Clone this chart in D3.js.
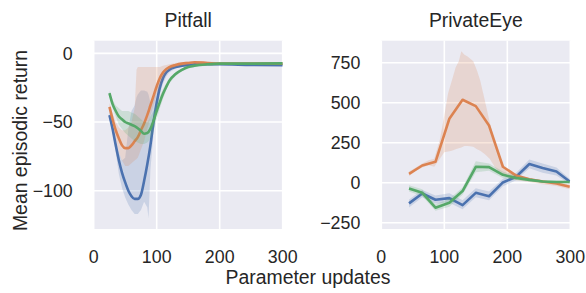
<!DOCTYPE html>
<html>
<head>
<meta charset="utf-8">
<script src="https://cdn.jsdelivr.net/npm/d3@7"></script>
<style>
  html, body { margin: 0; padding: 0; background: #ffffff; }
  svg { display: block; }
  text { font-family: "Liberation Sans", Arial, sans-serif; fill: #262626; }
</style>
</head>
<body>
<svg id="chart" width="586" height="293"></svg>
<script>
// ---------------- DATA ----------------
const seriesNames = ["blue", "orange", "green"];
const seriesColors = ["#4C72B0", "#DD8452", "#55A868"];

const panelTitles = ["Pitfall", "PrivateEye"];
const xTicks = [0, 100, 200, 300];
const pitfallYTicks = [0, -50, -100];
const privateEyeYTicks = [750, 500, 250, 0, -250];

// Pitfall mean lines
const pfX = [25, 30, 35, 40, 45, 50, 55, 60, 65, 70, 75, 80, 85, 90, 95, 100, 105, 110, 115, 120, 130, 140, 150, 160, 180, 200, 250, 300];
const pfBlue = [-45, -55, -67, -78, -87, -94, -100, -104, -106, -106, -103, -93, -81, -67, -50, -36, -25, -18, -14, -12, -10, -9, -8.5, -8, -8, -8, -8.5, -8.7];
const pfOrange = [-39, -48, -56, -62, -67, -69, -69, -67, -64, -61, -56, -51, -45, -38, -31, -24, -18, -14, -11.5, -10, -8.5, -7.5, -7, -6.5, -7, -7.5, -7.5, -7.5];
const pfGreen = [-29, -37, -42, -46, -48, -50, -51, -52, -53, -54.5, -56.5, -58.5, -58, -55, -49, -42, -35.5, -29.5, -24.5, -20, -15, -12, -10, -9, -8, -7.5, -7.5, -7.3];

// Pitfall bands
const pfBandX = [25, 30, 35, 40, 45, 50, 55, 60, 65, 68, 70, 75, 80, 85, 87, 90, 95, 100, 105, 110, 115, 120, 130, 140, 150, 160, 180, 200, 250, 300];
const pfBlueHi = [-42, -51, -62, -72, -78, -76, -55, -42, -38, -32, -30, -27, -27, -28, -30, -36, -32, -24, -18, -14, -11.5, -10, -9, -8, -7.5, -7.3, -7.3, -7.5, -8, -8.2];
const pfBlueLo = [-48, -58, -72, -88, -98, -105, -110, -114, -117, -117, -117, -114, -108, -112, -120, -85, -58, -42, -30, -22, -17, -14, -11, -10, -9.5, -9, -8.8, -8.7, -9, -9.2];
const pfOrangeHi = [-36, -44, -50, -54, -56, -56, -54, -50, -40, -12, -10, -10, -10, -10, -10, -10, -10, -10, -10, -9, -8.5, -8, -7, -6.5, -6, -5.5, -6, -6.5, -6.5, -7];
const pfOrangeLo = [-42, -52, -62, -72, -78, -82, -82, -80, -78, -77, -76, -70, -64, -55, -52, -45, -38, -30, -24, -18, -14, -12, -10, -9, -8, -7.5, -8, -8.5, -8.5, -8];
const pfGreenHi = [-27, -34, -38, -40, -42, -42, -42, -43, -44, -45, -46, -48, -50, -50, -49, -46, -42, -36, -31, -26, -22, -18, -13.5, -11, -9, -8, -7.2, -6.8, -6.8, -6.8];
const pfGreenLo = [-31, -40, -46, -52, -55, -58, -60, -62, -64, -64.5, -65, -66, -66, -65, -64, -62, -56, -48, -40, -33, -27, -22, -16.5, -13, -11, -10, -9, -8.2, -8, -7.8];

// PrivateEye mean lines
const peX = [44, 65, 86, 108, 129, 150, 171, 193, 214, 235, 256, 278, 299];
const peBlue = [-129, -67, -106, -96, -140, -63, -84, 2, 38, 117, 92, 70, 8];
const peOrange = [56, 108, 131, 400, 519, 479, 358, 100, 45, 22, 8, -5, -25];
const peGreen = [-36, -63, -156, -125, -52, 100, 98, 50, 30, 18, 8, 5, 5];

// PrivateEye bands
const peBlueHi = [-105, -45, -80, -65, -110, -35, -55, 25, 62, 145, 120, 95, 25];
const peBlueLo = [-155, -90, -130, -125, -165, -90, -110, -22, 15, 90, 62, 45, -10];
const peGreenHi = [-15, -40, -135, -100, -30, 135, 120, 70, 45, 28, 15, 12, 12];
const peGreenLo = [-55, -85, -175, -150, -75, 65, 75, 30, 15, 8, 0, -2, -2];
const peOrangeBandX = [44, 55, 65, 75, 84, 93, 100, 106, 112, 118, 123, 127, 132, 137, 146, 152, 157, 164, 172, 180, 188, 196, 205, 214, 235, 256, 278, 299];
const peOrangeHi = [70, 95, 120, 140, 150, 270, 420, 560, 640, 720, 760, 822, 800, 790, 760, 700, 640, 520, 380, 260, 150, 90, 65, 50, 30, 18, 5, -12];
const peOrangeLo = [40, 75, 95, 110, 100, 150, 190, 195, 200, 210, 215, 220, 230, 230, 225, 210, 200, 180, 150, 100, 60, 40, 25, 15, 5, -10, -20, -40];

// ---------------- LAYOUT ----------------
const svg = d3.select("#chart");
const plotTop = 40.7, plotBottom = 229;

const panels = [
  {
    title: panelTitles[0],
    x: d3.scaleLinear().domain([0, 300]).range([93.7, 282.7]),
    y: d3.scaleLinear().domain([-127.9, 9.2]).range([plotBottom, plotTop]),
    yTicks: pitfallYTicks,
    curve: d3.curveMonotoneX,
    series: [
      { line: pfX.map((x, i) => [x, pfBlue[i]]), band: pfBandX.map((x, i) => [x, pfBlueLo[i], pfBlueHi[i]]) },
      { line: pfX.map((x, i) => [x, pfOrange[i]]), band: pfBandX.map((x, i) => [x, pfOrangeLo[i], pfOrangeHi[i]]) },
      { line: pfX.map((x, i) => [x, pfGreen[i]]), band: pfBandX.map((x, i) => [x, pfGreenLo[i], pfGreenHi[i]]) }
    ]
  },
  {
    title: panelTitles[1],
    x: d3.scaleLinear().domain([0, 300]).range([381.3, 570.3]),
    y: d3.scaleLinear().domain([-289, 888]).range([plotBottom, plotTop]),
    yTicks: privateEyeYTicks,
    curve: d3.curveLinear,
    series: [
      { line: peX.map((x, i) => [x, peBlue[i]]), band: peX.map((x, i) => [x, peBlueLo[i], peBlueHi[i]]) },
      { line: peX.map((x, i) => [x, peOrange[i]]), band: peOrangeBandX.map((x, i) => [x, peOrangeLo[i], peOrangeHi[i]]) },
      { line: peX.map((x, i) => [x, peGreen[i]]), band: peX.map((x, i) => [x, peGreenLo[i], peGreenHi[i]]) }
    ]
  }
];

panels.forEach((p, pi) => {
  const [x0, x1] = p.x.range();
  const g = svg.append("g");
  const clipId = "clip" + pi;
  svg.append("clipPath").attr("id", clipId)
    .append("rect").attr("x", x0).attr("y", plotTop).attr("width", x1 - x0).attr("height", plotBottom - plotTop);

  g.append("rect").attr("x", x0).attr("y", plotTop).attr("width", x1 - x0).attr("height", plotBottom - plotTop)
    .attr("fill", "#EAEAF2");

  // grid
  g.selectAll(".gx").data(xTicks).join("line")
    .attr("x1", d => p.x(d)).attr("x2", d => p.x(d))
    .attr("y1", plotTop).attr("y2", plotBottom)
    .attr("stroke", "#ffffff").attr("stroke-width", 1.6);
  g.selectAll(".gy").data(p.yTicks).join("line")
    .attr("x1", x0).attr("x2", x1)
    .attr("y1", d => p.y(d)).attr("y2", d => p.y(d))
    .attr("stroke", "#ffffff").attr("stroke-width", 1.6);

  const plot = g.append("g").attr("clip-path", `url(#${clipId})`);
  p.series.forEach((s, si) => {
    const line = d3.line().x(d => p.x(d[0])).y(d => p.y(d[1])).curve(p.curve);
    plot.append("path").attr("d", line(s.line))
      .attr("fill", "none").attr("stroke", seriesColors[si])
      .attr("stroke-width", 2.6).attr("stroke-linejoin", "round").attr("stroke-linecap", "butt");
    const area = d3.area().x(d => p.x(d[0])).y0(d => p.y(d[1])).y1(d => p.y(d[2])).curve(d3.curveLinear);
    plot.append("path").attr("d", area(s.band))
      .attr("fill", seriesColors[si]).attr("fill-opacity", 0.2).attr("stroke", "none");
  });

  // x tick labels
  g.selectAll(".xt").data(xTicks).join("text")
    .attr("x", d => p.x(d)).attr("y", 263.3)
    .attr("text-anchor", "middle").attr("font-size", "17.8px")
    .text(d => d3.format("d")(d));
  // y tick labels
  g.selectAll(".yt").data(p.yTicks).join("text")
    .attr("x", x0 - 21).attr("y", d => p.y(d)).attr("dy", "0.36em")
    .attr("text-anchor", "end").attr("font-size", "17.8px")
    .text(d => d3.format("d")(d).replace("-", "\u2212"));
  // title
  g.append("text").attr("x", (x0 + x1) / 2).attr("y", 27.3)
    .attr("text-anchor", "middle").attr("font-size", "19.4px").text(p.title);
});

svg.append("text").attr("transform", "translate(26.5,140.5) rotate(-90)")
  .attr("text-anchor", "middle").attr("font-size", "19.4px").text("Mean episodic return");
svg.append("text").attr("x", 308).attr("y", 284)
  .attr("text-anchor", "middle").attr("font-size", "19.4px").text("Parameter updates");
</script>
</body>
</html>
